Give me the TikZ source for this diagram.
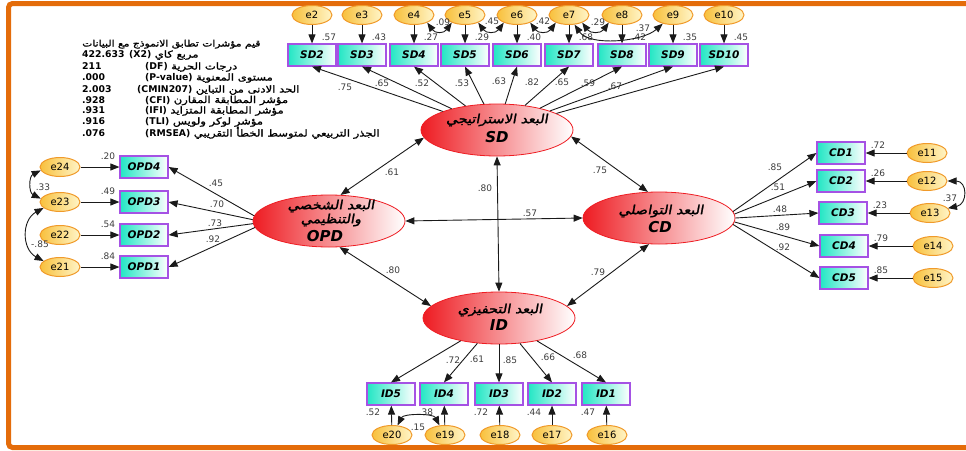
\documentclass[tikz,border=0pt]{standalone}
\usepackage{fontspec}
\setmainfont{DejaVu Sans}
\newfontfamily\arfontbold[Script=Arabic,FakeBold=1.4,FakeStretch=1.22]{DejaVu Sans}
\newfontfamily\arfontslant[Script=Arabic,FakeBold=1.8,FakeSlant=0.18,FakeStretch=1.15]{DejaVu Sans}
\TeXXeTstate=1
\usetikzlibrary{arrows.meta,shapes.geometric}

\definecolor{frameorange}{HTML}{E46C0A}
\definecolor{boxteal}{HTML}{22E6C4}
\definecolor{boxpurple}{HTML}{A552E4}
\definecolor{latred}{HTML}{EE1C22}
\definecolor{errgold}{HTML}{F8C03C}
\definecolor{errlight}{HTML}{FFF5C8}
\definecolor{errdraw}{HTML}{F09A2A}
\definecolor{coefgray}{HTML}{3C3C3C}
\definecolor{linegray}{HTML}{1A1A1A}

\newcommand{\arline}[1]{\beginR#1\endR}

\tikzset{
  errnode/.style={ellipse, draw=errdraw, line width=1pt, left color=errgold, right color=errlight,
    minimum width=40pt, minimum height=19pt, inner sep=0pt, font=\fontsize{10}{10}\selectfont},
  obsbox/.style={rectangle, draw=boxpurple, line width=1.2pt, left color=boxteal, right color=white,
    minimum width=48pt, minimum height=22pt, inner sep=0pt,
    font=\fontsize{10.5}{10.5}\selectfont\bfseries\itshape},
  latent/.style={ellipse, draw=latred, line width=0.8pt, left color=latred, right color=white,
    minimum width=152pt, minimum height=52pt, inner sep=0pt},
  latar/.style={inner sep=0pt, font=\arfontslant\fontsize{12.5}{12.5}\selectfont},
  latlat/.style={inner sep=0pt, font=\fontsize{15}{15}\selectfont\bfseries\itshape},
  coef/.style={inner sep=0pt, text=coefgray, font=\fontsize{9}{9}\selectfont},
  stat/.style={inner sep=0pt, anchor=base west, font=\fontsize{9.3}{9.3}\selectfont\bfseries},
  statar/.style={inner sep=0pt, anchor=base west, font=\arfontbold\fontsize{9.5}{9.5}\selectfont},
  regarrow/.style={draw=linegray, line width=0.9pt, -{Triangle[length=9pt,width=7pt]}},
  covarrow/.style={draw=linegray, line width=0.9pt,
    {Triangle[length=9pt,width=7pt]}-{Triangle[length=9pt,width=7pt]}},
}

\begin{document}
\begin{tikzpicture}[x=1pt,y=-1pt]
\useasboundingbox (0,0) rectangle (966,450);

% orange frame, open on the right
\draw[frameorange, line width=5pt, rounded corners=4pt]
  (975,3.5) -- (8.5,3.5) -- (8.5,447.5) -- (975,447.5);

% ---------- fit indices ----------
\node[statar, font=\arfontbold\fontsize{8.8}{8.8}\selectfont] (fitTitle) at (82,46.5)
  {\arline{قيم مؤشرات تطابق الانموذج مع البيانات}};
\foreach \k/\y/\val/\px/\lab/\txt in {
  1/57.5/422.633/129/(X2)/مربع كاي,
  2/69.5/211/145/(DF)/درجات الحرية,
  3/80.5/.000/145/(P-value)/مستوى المعنوية,
  4/92.5/2.003/137/(CMIN207)/الحد الادنى من التباين,
  5/103/.928/145/(CFI)/مؤشر المطابقة المقارن,
  6/113.5/.931/145/(IFI)/مؤشر المطابقة المتزايد,
  7/124.5/.916/145/(TLI)/مؤشر لوكر ولويس,
  8/136.5/.076/145/(RMSEA)/الجذر التربيعي لمتوسط الخطأ التقريبي}
{
  \node[stat] (fitv\k) at (82,\y) {\val};
  \node[stat] (fitk\k) at (\px,\y) {\lab};
  \node[statar] (fita\k) at ([xshift=3pt]fitk\k.base east) {\arline{\txt}};
}

% ---------- latent factors ----------
\node[latent] (SD) at (497,130) {};
\node[latent] (OPD) at (329,221) {};
\node[latent] (CD) at (659,218) {};
\node[latent] (ID) at (499,318) {};

\node[latar] (SDa) at (497,120) {\arline{البعد الاستراتيجي}};
\node[latlat] (SDb) at (497,137) {SD};
\node[latar] (OPDa) at (331,206) {\arline{البعد الشخصي}};
\node[latar] (OPDb) at (331,220) {\arline{والتنظيمي}};
\node[latlat] (OPDc) at (325,236) {OPD};
\node[latar] (CDa) at (661,211) {\arline{البعد التواصلي}};
\node[latlat] (CDb) at (660,227) {CD};
\node[latar] (IDa) at (500,310) {\arline{البعد التحفيزي}};
\node[latlat] (IDb) at (499,325) {ID};

% factor correlations
\draw[covarrow] (SD.186) -- (OPD.66);
\draw[covarrow] (SD.355) -- (CD.113);
\draw[covarrow] (SD.south) -- (ID.north);
\draw[covarrow] (OPD.east) -- (CD.west);
\draw[covarrow] (OPD.292) -- (ID.170);
\draw[covarrow] (CD.249) -- (ID.10);
\node[coef] (cSO) at (392,172) {.61};
\node[coef] (cSC) at (600,170) {.75};
\node[coef] (cSI) at (485,188) {.80};
\node[coef] (cOC) at (530,213) {.57};
\node[coef] (cOI) at (393,270) {.80};
\node[coef] (cCI) at (598,272) {.79};

% ---------- SD indicators ----------
\foreach \n/\x/\r in {2/312/.57, 3/362/.43, 4/414/.27, 5/465/.29, 6/517/.40,
                      7/569/.68, 8/622/.42, 9/673/.35, 10/724/.45} {
  \node[errnode] (e\n) at (\x,15) {e\n};
  \node[obsbox] (SD\n) at (\x,55) {SD\n};
  \node[coef] (rsd\n) at (\x+17,37) {\r};
  \draw[regarrow] (e\n) -- (SD\n);
  \draw[regarrow] (SD) -- (SD\n.south);
}
\foreach \n/\x/\y/\v in {2/345/87/.75, 3/382/83/.65, 4/422/83/.52, 5/462/83/.53, 6/499/81/.63,
                         7/532/82/.82, 8/562/82/.65, 9/588/83/.59, 10/615/86/.67}
  \node[coef] (lsd\n) at (\x,\y) {\v};

\draw[covarrow] (e4.-30) .. controls +(8,11) and +(-8,11) .. (e5.210);
\draw[covarrow] (e5.-30) .. controls +(8,11) and +(-8,11) .. (e6.210);
\draw[covarrow] (e6.-30) .. controls +(8,11) and +(-8,11) .. (e7.210);
\draw[covarrow] (e7.-30) .. controls +(8,11) and +(-8,11) .. (e8.210);
\draw[covarrow] (e7.-60) .. controls +(15,22) and +(-20,18) .. (e9.220);
\node[coef] (c45) at (443,22) {.09};
\node[coef] (c56) at (492,21) {.45};
\node[coef] (c67) at (543,21) {.42};
\node[coef] (c78) at (598,22) {.29};
\node[coef] (c79) at (643,28) {.37};

% ---------- OPD indicators ----------
\foreach \n/\y/\r/\e/\a in {4/167/.20/24/176, 3/202/.49/23/179, 2/235/.54/22/182, 1/267/.84/21/185} {
  \node[obsbox] (OPD\n) at (144,\y) {OPD\n};
  \node[errnode] (e\e) at (60,\y) {e\e};
  \node[coef] (ropd\n) at (108,\y-11) {\r};
  \draw[regarrow] (e\e) -- (OPD\n);
  \draw[regarrow] (OPD.\a) -- (OPD\n.east);
}
\node[coef] (lopd4) at (216,183) {.45};
\node[coef] (lopd3) at (217,204) {.70};
\node[coef] (lopd2) at (215,223) {.73};
\node[coef] (lopd1) at (213,239) {.92};
\draw[covarrow] (e24.190) .. controls +(-12,6) and +(-12,-6) .. (e23.170);
\draw[covarrow] (e23.200) .. controls +(-22,12) and +(-22,-12) .. (e21.160);
\node[coef] (c2423) at (43,187) {.33};
\node[coef] (c2321) at (40,244) {-.85};

% ---------- CD indicators ----------
\foreach \n/\x/\y/\ex/\r/\e/\a in {1/841/153/927/.72/11/5, 2/841/181/927/.26/12/3, 3/843/213/930/.23/13/0,
                                   4/844/246/933/.79/14/-3, 5/844/278/933/.85/15/-5} {
  \node[obsbox] (CD\n) at (\x,\y) {CD\n};
  \node[errnode] (e\e) at (\ex,\y) {e\e};
  \node[coef] (rcd\n) at (\x+37,\y-8) {\r};
  \draw[regarrow] (e\e) -- (CD\n);
  \draw[regarrow] (CD.\a) -- (CD\n.west);
}
\node[coef] (lcd1) at (775,167) {.85};
\node[coef] (lcd2) at (778,187) {.51};
\node[coef] (lcd3) at (780,209) {.48};
\node[coef] (lcd4) at (783,227) {.89};
\node[coef] (lcd5) at (783,247) {.92};
\draw[covarrow] (e12.east) .. controls +(20,0) and +(20,-4) .. (e13.15);
\node[coef] (c1213) at (950,198) {.37};

% ---------- ID indicators ----------
\foreach \n/\x/\ex/\r/\e in {5/391/392/.52/20, 4/444/445/.38/19, 3/499/500/.72/18,
                              2/552/552/.44/17, 1/606/607/.47/16} {
  \node[obsbox] (ID\n) at (\x,394) {ID\n};
  \node[errnode] (e\e) at (\ex,435) {e\e};
  \node[coef] (rid\n) at (\x-18,412) {\r};
  \draw[regarrow] (e\e) -- (ID\n);
  \draw[regarrow] (ID) -- (ID\n.north);
}
\node[coef] (lid5) at (453,360) {.72};
\node[coef] (lid4) at (477,359) {.61};
\node[coef] (lid3) at (510,360) {.85};
\node[coef] (lid2) at (548,357) {.66};
\node[coef] (lid1) at (580,355) {.68};
\draw[covarrow] (e20.60) .. controls +(6,-12) and +(-6,-12) .. (e19.120);
\node[coef] (c2019) at (418,427) {.15};

\end{tikzpicture}
\end{document}
